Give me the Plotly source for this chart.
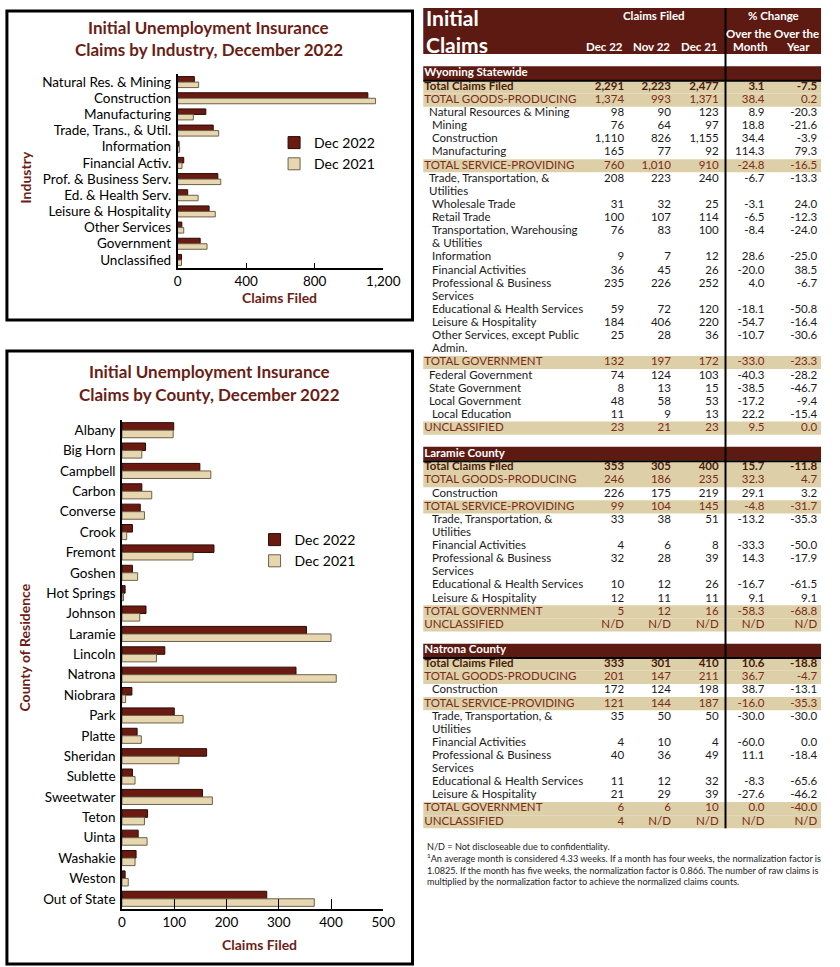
import plotly.graph_objects as go

W, H = 840, 967
FONT = "Lato"
MAROON = "#6b1a12"
BEIGE = "#e6d7b1"
HDR = "#5c1a12"
BAND = "#ddd0a9"
TITLE_C = "#6b1e16"

# ---------------- data: industry chart ----------------
industries = ["Natural Res. & Mining", "Construction", "Manufacturing", "Trade, Trans., & Util.",
              "Information", "Financial Activ.", "Prof. & Business Serv.", "Ed. & Health Serv.",
              "Leisure & Hospitality", "Other Services", "Government", "Unclassified"]
ind_dec2022 = [98, 1110, 165, 208, 9, 36, 235, 59, 184, 25, 132, 23]
ind_dec2021 = [123, 1155, 92, 240, 12, 26, 252, 120, 220, 36, 172, 23]
ind_ticks = [0, 400, 800, 1200]

# ---------------- data: county chart ----------------
counties = ["Albany", "Big Horn", "Campbell", "Carbon", "Converse", "Crook", "Fremont", "Goshen",
            "Hot Springs", "Johnson", "Laramie", "Lincoln", "Natrona", "Niobrara", "Park", "Platte",
            "Sheridan", "Sublette", "Sweetwater", "Teton", "Uinta", "Washakie", "Weston", "Out of State"]
cty_dec2022 = [99, 45, 149, 38, 35, 20, 176, 20, 6, 46, 353, 82, 333, 19, 100, 29, 162, 20, 154, 49, 31, 27, 6, 277]
cty_dec2021 = [98, 38, 170, 57, 43, 9, 136, 30, 3, 34, 400, 66, 410, 7, 117, 37, 109, 25, 173, 43, 48, 25, 12, 368]
cty_ticks = [0, 100, 200, 300, 400, 500]

# ---------------- data: table ----------------
hdr_cols = ["Dec 22", "Nov 22", "Dec 21", "Month", "Year"]

wy_labels = ["Total Claims Filed", "TOTAL GOODS-PRODUCING", "Natural Resources & Mining", "Mining",
             "Construction", "Manufacturing", "TOTAL SERVICE-PROVIDING", "Trade, Transportation, &|Utilities",
             "Wholesale Trade", "Retail Trade", "Transportation, Warehousing|& Utilities", "Information",
             "Financial Activities", "Professional & Business|Services", "Educational & Health Services",
             "Leisure & Hospitality", "Other Services, except Public|Admin.", "TOTAL GOVERNMENT",
             "Federal Government", "State Government", "Local Government", "Local Education", "UNCLASSIFIED"]
wy_dec22 = ["2,291", "1,374", "98", "76", "1,110", "165", "760", "208", "31", "100", "76", "9", "36", "235",
            "59", "184", "25", "132", "74", "8", "48", "11", "23"]
wy_nov22 = ["2,223", "993", "90", "64", "826", "77", "1,010", "223", "32", "107", "83", "7", "45", "226",
            "72", "406", "28", "197", "124", "13", "58", "9", "21"]
wy_dec21 = ["2,477", "1,371", "123", "97", "1,155", "92", "910", "240", "25", "114", "100", "12", "26", "252",
            "120", "220", "36", "172", "103", "15", "53", "13", "23"]
wy_mom = ["3.1", "38.4", "8.9", "18.8", "34.4", "114.3", "-24.8", "-6.7", "-3.1", "-6.5", "-8.4", "28.6",
          "-20.0", "4.0", "-18.1", "-54.7", "-10.7", "-33.0", "-40.3", "-38.5", "-17.2", "22.2", "9.5"]
wy_yoy = ["-7.5", "0.2", "-20.3", "-21.6", "-3.9", "79.3", "-16.5", "-13.3", "24.0", "-12.3", "-24.0", "-25.0",
          "38.5", "-6.7", "-50.8", "-16.4", "-30.6", "-23.3", "-28.2", "-46.7", "-9.4", "-15.4", "0.0"]
wy_kind = ["total", "group", "l1", "l2", "l2", "l2", "group", "l1", "l2", "l2", "l2", "l2", "l2", "l2",
           "l2", "l2", "l2", "group", "l1", "l1", "l1", "l2", "group"]

co_labels = ["Total Claims Filed", "TOTAL GOODS-PRODUCING", "Construction", "TOTAL SERVICE-PROVIDING",
             "Trade, Transportation, &|Utilities", "Financial Activities", "Professional & Business|Services",
             "Educational & Health Services", "Leisure & Hospitality", "TOTAL GOVERNMENT", "UNCLASSIFIED"]
co_kind = ["total", "group", "l2", "group", "l2", "l2", "l2", "l2", "l2", "group", "group"]

la_dec22 = ["353", "246", "226", "99", "33", "4", "32", "10", "12", "5", "N/D"]
la_nov22 = ["305", "186", "175", "104", "38", "6", "28", "12", "11", "12", "N/D"]
la_dec21 = ["400", "235", "219", "145", "51", "8", "39", "26", "11", "16", "N/D"]
la_mom = ["15.7", "32.3", "29.1", "-4.8", "-13.2", "-33.3", "14.3", "-16.7", "9.1", "-58.3", "N/D"]
la_yoy = ["-11.8", "4.7", "3.2", "-31.7", "-35.3", "-50.0", "-17.9", "-61.5", "9.1", "-68.8", "N/D"]

na_dec22 = ["333", "201", "172", "121", "35", "4", "40", "11", "21", "6", "4"]
na_nov22 = ["301", "147", "124", "144", "50", "10", "36", "12", "29", "6", "N/D"]
na_dec21 = ["410", "211", "198", "187", "50", "4", "49", "32", "39", "10", "N/D"]
na_mom = ["10.6", "36.7", "38.7", "-16.0", "-30.0", "-60.0", "11.1", "-8.3", "-27.6", "0.0", "N/D"]
na_yoy = ["-18.8", "-4.7", "-13.1", "-35.3", "-30.0", "0.0", "-18.4", "-65.6", "-46.2", "-40.0", "N/D"]

sections = [
    ("Wyoming Statewide", wy_labels, wy_kind, [wy_dec22, wy_nov22, wy_dec21, wy_mom, wy_yoy]),
    ("Laramie County", co_labels, co_kind, [la_dec22, la_nov22, la_dec21, la_mom, la_yoy]),
    ("Natrona County", co_labels, co_kind, [na_dec22, na_nov22, na_dec21, na_mom, na_yoy]),
]

footnote = ("N/D = Not discloseable due to confidentiality.<br>"
            "<sup>1</sup>An average month is considered 4.33 weeks. If a month has four weeks, the normalization factor is<br>"
            "1.0825. If the month has five weeks, the normalization factor is 0.866. The number of raw claims is<br>"
            "multiplied by the normalization factor to achieve the normalized claims counts.")

# ---------------- layout helpers ----------------
def px(x):
    return x / W

def py(y):
    return 1 - y / H

Y0, PITCH = 73.9, 13.12          # table line grid (pixels)
def slot_of(ypx):
    return (ypx - Y0) / PITCH

T_LEFT, T_RIGHT, T_DIV = 430, 838, 740
LEVEL_X = {"total": 431, "group": 431, "l1": 436, "l2": 439}
COL_RIGHT = [636, 684, 733, 780, 834]
TFS = 11.5

fig = go.Figure()

# ---------------- industry chart ----------------
wi = 0.34
fig.add_trace(go.Bar(y=industries, x=ind_dec2022, orientation="h", name="Dec 2022",
                     marker=dict(color=MAROON, line=dict(color="#2a0a05", width=1)),
                     width=wi, offset=-wi, xaxis="x", yaxis="y", legend="legend", legendgroup="a"))
fig.add_trace(go.Bar(y=industries, x=ind_dec2021, orientation="h", name="Dec 2021",
                     marker=dict(color=BEIGE, line=dict(color="#6e6048", width=1)),
                     width=wi, offset=0, xaxis="x", yaxis="y", legend="legend", legendgroup="b"))

# ---------------- county chart ----------------
wc = 0.37
fig.add_trace(go.Bar(y=counties, x=cty_dec2022, orientation="h", name="Dec 2022",
                     marker=dict(color=MAROON, line=dict(color="#2a0a05", width=1)),
                     width=wc, offset=-wc, xaxis="x2", yaxis="y2", legend="legend2", legendgroup="c"))
fig.add_trace(go.Bar(y=counties, x=cty_dec2021, orientation="h", name="Dec 2021",
                     marker=dict(color=BEIGE, line=dict(color="#6e6048", width=1)),
                     width=wc, offset=0, xaxis="x2", yaxis="y2", legend="legend2", legendgroup="d"))

# ---------------- table ----------------
bg_y, bg_w, bg_c = [], [], []
lab_x, lab_y, lab_t, lab_c = [], [], [], []
num = [dict(x=[], y=[], t=[], c=[]) for _ in range(5)]
rule_x, rule_y = [], []

# header band
hy0, hy1 = slot_of(8), slot_of(54)
bg_y.append((hy0 + hy1) / 2); bg_w.append(hy1 - hy0); bg_c.append(HDR)

style = {"total": ("#4a1c0c", True), "group": ("#7b2c16", False),
         "l1": ("#1a1a1a", False), "l2": ("#1a1a1a", False)}

s = 0
last_slot = 0
for title, labels, kinds, cols in sections:
    bg_y.append(s - 0.05); bg_w.append(1.05); bg_c.append(HDR)
    lab_x.append(LEVEL_X["total"]); lab_y.append(s - 0.05); lab_t.append("<b>" + title + "</b>"); lab_c.append("white")
    rule_x += [T_LEFT, T_RIGHT, None]; rule_y += [s + 0.52, s + 0.52, None]
    s += 1
    for i, lab in enumerate(labels):
        k = kinds[i]
        color, bold = style[k]
        if k in ("total", "group"):
            bg_y.append(s); bg_w.append(1.0); bg_c.append(BAND)
        for j, part in enumerate(lab.split("|")):
            lab_x.append(LEVEL_X[k]); lab_y.append(s + j)
            lab_t.append("<b>" + part + "</b>" if bold else part); lab_c.append(color)
        for ci in range(5):
            v = cols[ci][i]
            num[ci]["x"].append(COL_RIGHT[ci]); num[ci]["y"].append(s)
            num[ci]["t"].append("<b>" + v + "</b>" if bold else v); num[ci]["c"].append(color)
        last_slot = s
        s += len(lab.split("|"))
    s += 1  # blank line between sections

fig.add_trace(go.Bar(y=bg_y, x=[T_RIGHT - T_LEFT] * len(bg_y), base=[T_LEFT] * len(bg_y), width=bg_w,
                     orientation="h", marker=dict(color=bg_c, line=dict(width=0)),
                     xaxis="x3", yaxis="y3", showlegend=False, hoverinfo="skip"))

# divider line + rules under section bands
rule_x += [T_DIV, T_DIV, None]; rule_y += [hy0, last_slot + 0.5, None]
fig.add_trace(go.Scatter(x=rule_x, y=rule_y, mode="lines", line=dict(color="black", width=2),
                         xaxis="x3", yaxis="y3", showlegend=False, hoverinfo="skip"))

fig.add_trace(go.Scatter(x=lab_x, y=lab_y, text=lab_t, mode="text", textposition="middle right",
                         textfont=dict(family=FONT, size=TFS, color=lab_c),
                         xaxis="x3", yaxis="y3", showlegend=False, hoverinfo="skip"))
for ci in range(5):
    fig.add_trace(go.Scatter(x=num[ci]["x"], y=num[ci]["y"], text=num[ci]["t"], mode="text",
                             textposition="middle left",
                             textfont=dict(family=FONT, size=TFS, color=num[ci]["c"]),
                             xaxis="x3", yaxis="y3", showlegend=False, hoverinfo="skip"))

# ---------------- annotations ----------------
ann = []
def A(text, x, y, size, color="black", bold=False, xanchor="center", angle=0, yanchor="middle", align="center"):
    ann.append(dict(text=("<b>" + text + "</b>") if bold else text, x=px(x), y=py(y), xref="paper", yref="paper",
                    showarrow=False, xanchor=xanchor, yanchor=yanchor, textangle=angle, align=align,
                    font=dict(family=FONT, size=size, color=color)))

# chart titles
A("Initial Unemployment Insurance", 210, 27, 17, TITLE_C, True)
A("Claims by Industry, December 2022", 210, 50, 17, TITLE_C, True)
A("Initial Unemployment Insurance", 211, 371, 17, TITLE_C, True)
A("Claims by County, December 2022", 211, 394, 17, TITLE_C, True)
# axis titles
A("Industry", 22, 177, 14, TITLE_C, True, angle=-90)
A("Claims Filed", 283, 298, 14, TITLE_C, True)
A("County of Residence", 20, 648, 14, TITLE_C, True, angle=-90)
A("Claims Filed", 262, 944, 14, TITLE_C, True)
# table header
A("Initial<br>Claims", 431, 31, 21, "white", True, xanchor="left", align="left")
A("Claims Filed", 667, 15, 11.5, "white", True)
A("% Change", 789, 15, 11.5, "white", True)
A("Over the", 764, 33, 11.5, "white", True)
A("Over the", 813, 33, 11.5, "white", True)
for ci, h in enumerate(hdr_cols):
    if ci < 3:
        A(h, COL_RIGHT[ci] + 1, 47, 11.5, "white", True, xanchor="right")
A(hdr_cols[3], 765, 47, 11.5, "white", True)
A(hdr_cols[4], 814, 47, 11.5, "white", True)
# footnote
A(footnote, 432, 839, 9.1, "#222222", xanchor="left", yanchor="top", align="left")

# frames
shapes = [
    dict(type="rect", xref="paper", yref="paper", x0=px(3), x1=px(419), y0=py(11), y1=py(320),
         line=dict(color="black", width=3)),
    dict(type="rect", xref="paper", yref="paper", x0=px(3), x1=px(419), y0=py(351), y1=py(964),
         line=dict(color="black", width=3)),
]

axis_common = dict(showgrid=False, zeroline=False, showline=True, linecolor="black", linewidth=1.5,
                   tickfont=dict(family=FONT, size=13.5, color="black"))

fig.update_layout(
    width=W, height=H, autosize=False, margin=dict(l=0, r=0, t=0, b=0, pad=0),
    paper_bgcolor="white", plot_bgcolor="rgba(0,0,0,0)",
    barmode="group", showlegend=True,
    font=dict(family=FONT, color="black"),
    xaxis=dict(domain=[px(178), px(389)], range=[0, 1200], tickvals=ind_ticks, tickformat=",",
               ticks="inside", ticklen=5, tickcolor="black", anchor="y", **axis_common),
    yaxis=dict(domain=[py(268), py(74)], autorange="reversed", ticks="", anchor="x",
               ticklabelstandoff=2, **axis_common),
    xaxis2=dict(domain=[px(121), px(389)], range=[0, 500], tickvals=cty_ticks,
                ticks="inside", ticklen=10, tickcolor="black", anchor="y2", **axis_common),
    yaxis2=dict(domain=[py(909), py(420)], autorange="reversed", ticks="", anchor="x2",
                ticklabelstandoff=2, **axis_common),
    xaxis3=dict(domain=[0, 1], range=[0, W], visible=False, anchor="y3", fixedrange=True),
    yaxis3=dict(domain=[0, 1], range=[slot_of(H), slot_of(0)], visible=False, anchor="x3", fixedrange=True),
    legend=dict(x=px(277), y=py(127), xanchor="left", yanchor="top", bgcolor="rgba(0,0,0,0)",
                font=dict(family=FONT, size=14, color="black"), tracegroupgap=5, traceorder="normal"),
    legend2=dict(x=px(257), y=py(524), xanchor="left", yanchor="top", bgcolor="rgba(0,0,0,0)",
                 font=dict(family=FONT, size=14, color="black"), tracegroupgap=5, traceorder="normal"),
    annotations=ann, shapes=shapes,
)

fig.write_html(
    "out.html",
    config={"displayModeBar": False, "responsive": False},
    post_script=("document.documentElement.style.margin='0px';document.documentElement.style.overflow='hidden';"
                 "document.body.style.margin='0px';document.body.style.overflow='hidden';"
                 "var gd=document.getElementById('{plot_id}');gd.style.width='100%';"
                 "Plotly.relayout(gd,{width:Math.max(window.innerWidth,document.documentElement.clientWidth)});"),
)
